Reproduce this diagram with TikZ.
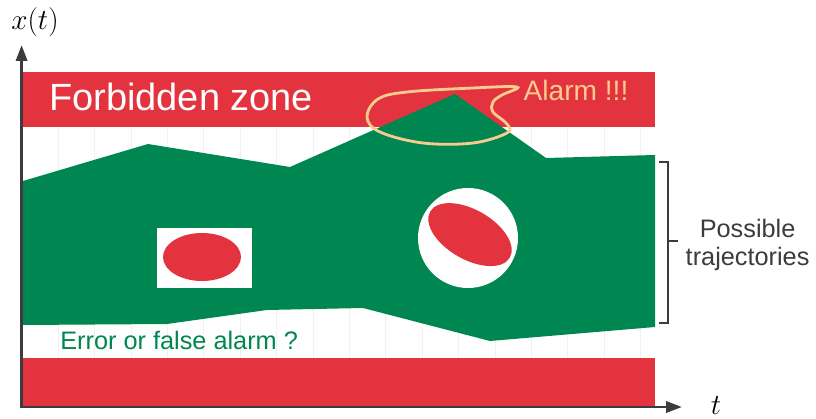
\documentclass[tikz,border=0pt]{standalone}
\usepackage{fontspec}
\setmainfont{Liberation Sans}
\usetikzlibrary{arrows.meta}
\definecolor{zonered}{HTML}{E3333F}
\definecolor{trajgreen}{HTML}{008751}
\definecolor{alarmpeach}{HTML}{F8CB8E}
\definecolor{axisgray}{HTML}{3C3C3C}
\begin{document}
\begin{tikzpicture}[
  axisline/.style={line width=2.1pt, draw=axisgray, {Triangle[length=4mm,width=2.8mm]}-{Triangle[length=4mm,width=2.8mm]}},
  band/.style={fill=zonered},
  hole/.style={fill=white},
  brace/.style={line width=2.1pt, draw=axisgray}]
\useasboundingbox (0,0) rectangle (20.4,10.475);
% faint grid
\foreach \gx in {0,...,16}
  \draw[black!6, line width=0.4pt] ({1.45+0.91*\gx},1.525) -- ({1.45+0.91*\gx},7.3);
% forbidden bands
\fill[band] (0.575,7.3) rectangle (16.375,8.675);
\fill[band] (0.575,0.3) rectangle (16.375,1.525);
% trajectories
\fill[trajgreen] (0.575,5.95) -- (3.7,6.875) -- (7.25,6.3) -- (11.375,8.125) -- (13.65,6.525)
  -- (16.375,6.6) -- (16.375,2.3) -- (12.25,1.95) -- (9.075,2.775) -- (6.675,2.725)
  -- (4.175,2.375) -- (0.575,2.35) -- cycle;
\fill[hole] (3.925,3.275) rectangle (6.3,4.775);
\fill[zonered] (5.05,4.05) ellipse [x radius=0.975, y radius=0.6];
\fill[hole] (11.7,4.525) circle (1.25);
\fill[zonered, rotate around={-30:(11.75,4.61)}] (11.75,4.61) ellipse [x radius=1.15, y radius=0.62];
% alarm loop
\draw[alarmpeach, line width=2pt] plot[smooth cycle, tension=0.6] coordinates {
  (12.925,8.3) (11.825,8.275) (10.175,8.175) (9.45,8.0) (9.175,7.55) (9.5,7.175)
  (10.575,6.9) (11.825,6.9) (12.675,7.15) (12.675,7.375) (12.325,7.675)
  (12.325,7.925) (12.55,8.1)};
% texts
\node[anchor=west, inner sep=0, text=white, font=\fontsize{27}{30}\selectfont] (forbidden) at (1.225,8.05) {Forbidden zone};
\node[inner sep=0, text=alarmpeach, font=\fontsize{20}{24}\selectfont] (alarm) at (14.4,8.225) {Alarm !!!};
\node[anchor=west, inner sep=0, text=trajgreen, font=\fontsize{18}{22}\selectfont] (falsealarm) at (1.5,1.96) {Error or false alarm ?};
\node[align=center, inner sep=0, text=axisgray, font=\fontsize{18}{20}\selectfont] (possible) at (18.69,4.35) {Possible\\trajectories};
\node[font=\fontsize{20.5}{24}\selectfont] (xlabel) at (0.875,9.925) {$x(t)$};
\node[font=\fontsize{20.5}{24}\selectfont] (tlabel) at (17.9,0.34) {$t$};
% axes
\coordinate (origin) at (0.54,0.3);
\coordinate (ytip) at (0.54,9.35);
\coordinate (xtip) at (17.05,0.3);
\draw[axisline] (ytip) -- (origin) -- (xtip);
% bracket
\coordinate (bracemid) at (16.7,4.45);
\draw[brace] (16.475,6.425) -- (16.7,6.425) -- (16.7,2.4) -- (16.475,2.4);
\draw[brace] (bracemid) -- ++(0.25,0);
\end{tikzpicture}
\end{document}
